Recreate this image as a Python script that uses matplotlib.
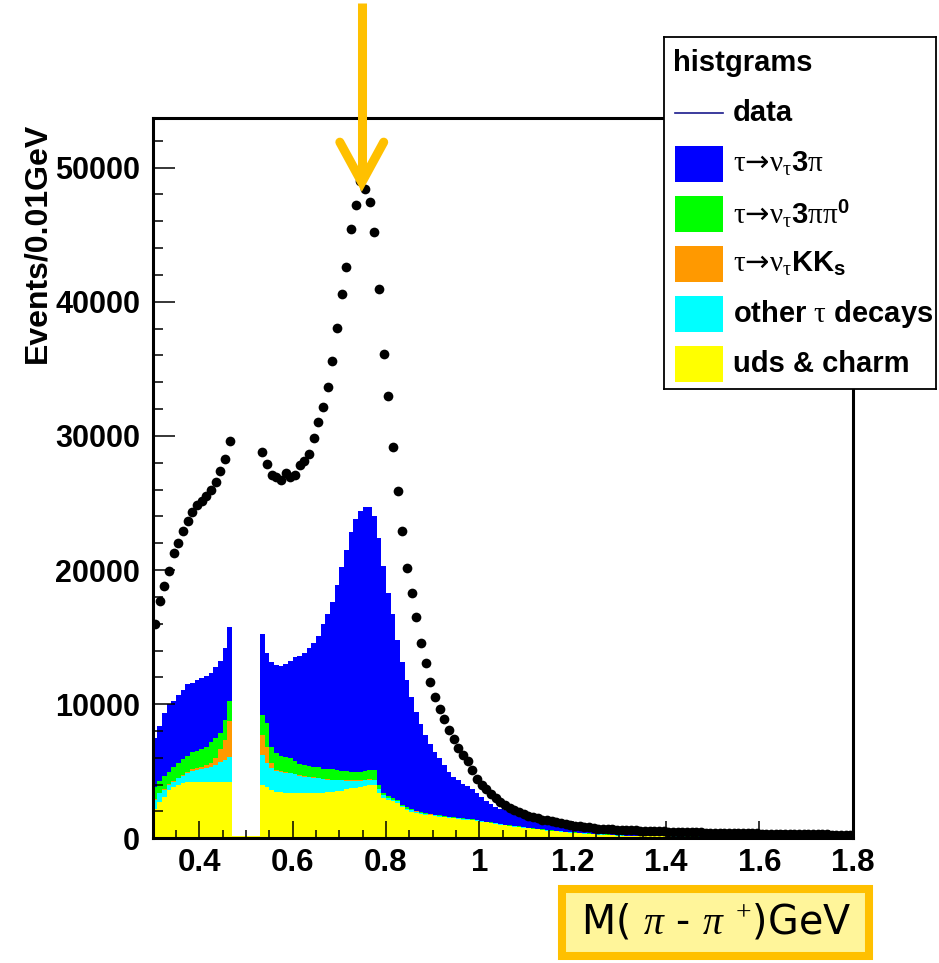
import numpy as np
import matplotlib.pyplot as plt
from matplotlib.patches import Rectangle
from matplotlib.lines import Line2D
from matplotlib.ticker import MultipleLocator, FuncFormatter

plt.rcParams['font.family'] = ['Liberation Sans', 'DejaVu Sans']
plt.rcParams['mathtext.fontset'] = 'custom'
plt.rcParams['mathtext.rm'] = 'Liberation Serif'
plt.rcParams['mathtext.it'] = 'Liberation Serif:italic'
plt.rcParams['mathtext.bf'] = 'Liberation Sans:bold'
plt.rcParams['mathtext.sf'] = 'DejaVu Sans'

# 150 bins of 0.01 GeV from 0.30 to 1.80 (K_S window 0.47-0.53 removed)
bin_lo, bin_hi, bin_w = 0.30, 1.80, 0.01
peak_mass = 0.748

nan = np.nan
data = ([15970, 17700, 18820, 19910, 21280, 22050, 22890, 23660, 24310, 24880,
         25130, 25550, 25950, 26600, 27420, 28310, 29620]
        + [nan] * 6
        + [28770, 27910, 27090, 26910, 26730, 27210, 26940, 27070, 27860, 28130,
           28630, 29850, 31070, 32160, 33620, 35560, 38020, 40570, 42610, 45390,
           47250, 48970, 48400, 47430, 45190, 40960, 36090, 32960, 29160, 25920,
           22940, 20140, 18270, 16500, 14580, 13100, 11640, 10500, 9640, 8930,
           8040, 7390, 6740, 6220, 5770, 5120, 4400]
        + [3950, 3650, 3300, 2980, 2730, 2480, 2280, 2090, 1940, 1790,
           1660, 1560, 1480, 1400, 1340, 1270, 1200, 1130, 1070, 1010,
           950, 900, 850, 810, 770, 730, 700, 680, 660, 640, 625]
        + [610, 600, 590, 575, 560, 550, 540, 530, 515, 500,
           490, 480, 470, 460, 450, 445, 440, 430, 420, 410,
           405, 400, 390, 385, 380, 375, 370, 365, 360, 355,
           350, 345, 340, 335, 330, 325, 320, 315, 310, 305,
           300, 295, 290, 285, 280, 275, 270, 265, 260])

uds = ([2160, 2730, 3100, 3600, 3850, 3970, 4140, 4220, 4200, 4220,
        4200, 4220, 4180, 4200, 4230, 4220, 4220]
       + [150] * 6
       + [3970, 3850, 3600, 3470, 3420, 3410, 3400, 3380, 3360, 3350,
          3350, 3360, 3380, 3400, 3420, 3450, 3500, 3550, 3650, 3720,
          3760, 3820, 3900, 3970, 3950, 3400, 3030, 2850, 2750, 2650,
          2300, 2100, 1980, 1900, 1820, 1750, 1700, 1650]
       + [1600, 1560, 1520, 1480, 1440, 1400, 1370, 1340, 1300, 1240,
          1180, 1120, 1070, 1020, 960, 900, 860, 820, 780, 740,
          700, 660, 620, 580, 550, 520, 490, 460, 430, 400,
          370, 340, 320, 300, 280, 260, 240, 220, 200, 190]
       + [180, 175, 170, 165, 160, 155, 150, 145, 140, 135,
          130, 126, 122, 118, 114, 110, 106, 102, 98, 95,
          92, 89, 86, 83, 80, 77, 74, 71, 68, 66,
          64, 62, 60, 58, 56, 54, 52, 50, 49, 48,
          47, 46, 45, 44, 43, 42, 41, 40, 40])

other_tau = ([690, 620, 500, 370, 370, 500, 500, 620, 810, 870,
              940, 990, 1150, 1260, 1480, 1610, 1860]
             + [0] * 6
             + [2240, 1740, 1610, 1530, 1530, 1490, 1450, 1400, 1290, 1250,
                1210, 1160, 1100, 1000, 930, 890, 830, 770, 650, 560,
                520, 480, 440, 410, 400, 280, 220, 150, 120, 110,
                100, 100, 100, 90, 80, 80, 70, 60]
             + [60, 60, 55, 55, 50, 50, 50, 45, 45, 45,
                40, 40, 40, 35, 35, 35, 30, 30, 30, 30]
             + [25] * 20
             + [15] * 49)

kks = ([50, 50, 50, 50, 60, 60, 80, 100, 140, 160,
        180, 220, 320, 490, 940, 1470, 2680]
       + [0] * 6
       + [1490, 1240, 380, 90, 50, 50, 50, 40, 40, 40,
          40, 40, 40, 40, 40, 40, 40, 40, 40, 40,
          40, 30, 30, 30, 30, 20, 10, 10, 10, 10,
          10, 10, 10, 10, 10, 10, 10, 10]
       + [0] * 89)

pipi0 = ([950, 870, 990, 940, 1050, 1060, 1160, 1190, 1300, 1280,
          1310, 1390, 1520, 1500, 1220, 1510, 1490]
         + [0] * 6
         + [1490, 1790, 1240, 1240, 1100, 1100, 1050, 980, 860, 810,
            800, 790, 780, 760, 790, 770, 730, 690, 660, 630,
            630, 650, 680, 690, 700, 300, 140, 140, 120, 110,
            90, 90, 90, 70, 60, 50, 50, 50]
         + [50, 50, 45, 45, 40, 40, 40, 35, 35, 35]
         + [30] * 10
         + [20] * 20
         + [10] * 49)

pi3 = ([3600, 4120, 4720, 5020, 4900, 5060, 5170, 5340, 5140, 5240,
        5340, 5270, 5120, 5340, 5360, 5390, 5520]
       + [0] * 6
       + [6030, 5210, 6290, 6600, 6760, 6950, 7250, 7700, 8050, 8330,
          8800, 9200, 9800, 10750, 11520, 12450, 13800, 15150, 16500, 17850,
          18850, 19420, 19650, 19580, 18920, 18400, 16900, 15150, 13700, 11870,
          10620, 9520, 8320, 7330, 6530, 5810, 5220, 4680]
       + [4250, 3810, 3360, 3020, 2810, 2590, 2450, 2270, 2020, 1780,
          1500, 1360, 1210, 1115, 1075, 1015, 950, 880, 820, 770,
          735, 695, 655, 615, 565, 525, 485, 455, 425, 405,
          385, 365, 335, 305, 275, 255, 235, 215, 195, 175]
       + [175, 170, 160, 150, 145, 140, 135, 130, 125, 120,
          116, 112, 108, 104, 100, 97, 94, 91, 88, 85,
          82, 80, 78, 76, 74, 72, 70, 68, 66, 64,
          62, 60, 58, 56, 54, 52, 50, 49, 48, 47,
          46, 45, 44, 43, 42, 41, 40, 40, 40])

tau_nu = r'$\mathrm{\tau}\mathsf{→}\mathrm{\nu_{\tau}}$'
components = [
    (uds, '#ffff00', 'uds & charm'),
    (other_tau, '#00ffff', r'other $\mathrm{\tau}$ decays'),
    (kks, '#ff9900', tau_nu + r'KK$_{\mathbf{s}}$'),
    (pipi0, '#00ff00', tau_nu + r'3$\mathrm{\pi\pi}^{\mathbf{0}}$'),
    (pi3, '#0000ff', tau_nu + r'3$\mathrm{\pi}$'),
]

edges = np.round(np.linspace(bin_lo, bin_hi, len(data) + 1), 3)
centers = 0.5 * (edges[:-1] + edges[1:])

W, H = 939, 963
fig = plt.figure(figsize=(W / 100, H / 100), dpi=100)
ax = fig.add_axes([152.7 / W, 1 - 838.3 / H, 700 / W, 720.3 / H])

bottom = np.zeros(len(data))
for vals, col, _ in components:
    top = bottom + np.array(vals, dtype=float)
    ax.stairs(top, edges, baseline=bottom, fill=True, color=col, lw=0)
    bottom = top

ax.plot(centers, np.array(data, dtype=float), 'o', color='black', ms=7, mew=0, zorder=5)

# orange arrow pointing at the rho peak
arrow_col = '#ffc000'
ax.plot([peak_mass, peak_mass], [62300, 49300], color=arrow_col, lw=6.5,
        solid_capstyle='butt', clip_on=False, zorder=6)
ax.plot([peak_mass - 0.047, peak_mass, peak_mass + 0.047], [51900, 48900, 51900],
        color=arrow_col, lw=6.5, solid_capstyle='round', solid_joinstyle='miter',
        clip_on=False, zorder=6)

ax.set_xlim(bin_lo, bin_hi)
ax.set_ylim(0, 53700)
for sp in ax.spines.values():
    sp.set_linewidth(2.2)
ax.xaxis.set_major_locator(MultipleLocator(0.2))
ax.xaxis.set_minor_locator(MultipleLocator(0.05))
ax.yaxis.set_major_locator(MultipleLocator(10000))
ax.yaxis.set_minor_locator(MultipleLocator(2000))
ax.xaxis.set_major_formatter(FuncFormatter(lambda v, p: '%g' % round(v, 2)))
ax.tick_params(axis='x', which='major', direction='in', length=12, width=1.1,
               labelsize=22.5, pad=7)
ax.tick_params(axis='x', which='minor', direction='in', length=6, width=1.1)
ax.tick_params(axis='y', which='major', direction='in', length=16, width=1.1,
               labelsize=22, pad=9)
ax.tick_params(axis='y', which='minor', direction='in', length=7.5, width=1.1)
for lab in ax.get_xticklabels() + ax.get_yticklabels():
    lab.set_fontweight('bold')
ax.set_ylabel('Events/0.01GeV', fontsize=23, fontweight='bold')
ax.yaxis.set_label_coords(-0.143, 0.826)

# legend box drawn in pixel units
leg = fig.add_axes([664 / W, 1 - 389 / H, 272 / W, 352 / H])
leg.set_xlim(0, 272)
leg.set_ylim(352, 0)
leg.set_xticks([])
leg.set_yticks([])
for sp in leg.spines.values():
    sp.set_linewidth(1.3)
leg.text(9, 26, 'histgrams', fontsize=21, fontweight='bold', va='center')
leg.add_line(Line2D([11, 59], [76, 76], color='#1a1a8c', lw=1.2))
leg.text(69, 76, 'data', fontsize=21, fontweight='bold', va='center')
for k, (vals, col, lab) in enumerate(components[::-1]):
    yc = 127 + 50 * k
    leg.add_patch(Rectangle((11, yc - 18), 48, 36, color=col, lw=0))
    leg.text(69, yc, lab, fontsize=21, fontweight='bold', va='center')

# x title in highlighted box (pixel units of the figure)
fig.add_artist(Rectangle((562 / W, 1 - 956 / H), 307 / W, 67 / H,
                         transform=fig.transFigure, fc='#fff59a', ec='#ffc000', lw=5.8))
fig.text(716 / W, 1 - 922 / H, r'M( $\pi$ - $\pi$ $^{+}$)GeV',
         fontsize=28.5, family='DejaVu Sans', ha='center', va='center')

fig.savefig('out.png', dpi=100)
